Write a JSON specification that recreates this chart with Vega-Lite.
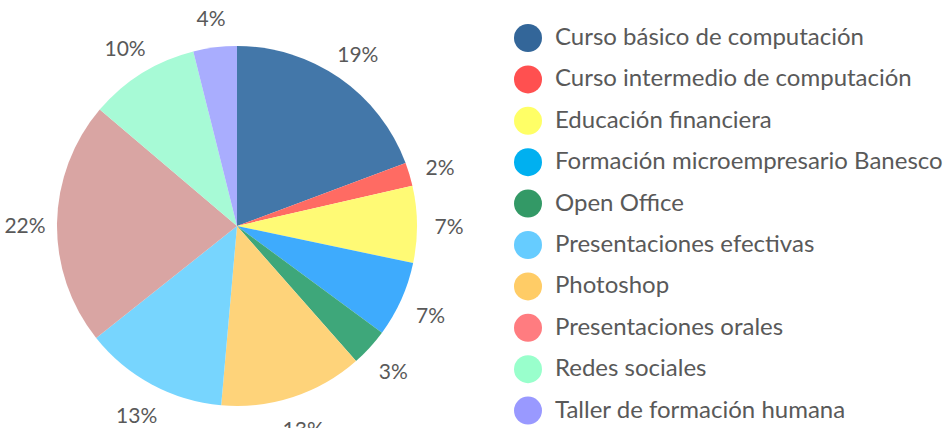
{
  "$schema": "https://vega.github.io/schema/vega-lite/v6.json",
  "width": 474,
  "height": 404,
  "autosize": {"type": "none"},
  "padding": {"left": 0, "top": 24, "right": 472, "bottom": 0},
  "background": "white",
  "view": {"stroke": null},
  "data": {
    "values": [
      {"curso": "Curso básico de computación", "pct": 0.193, "orden": 1},
      {"curso": "Curso intermedio de computación", "pct": 0.021, "orden": 2},
      {"curso": "Educación financiera", "pct": 0.069, "orden": 3},
      {"curso": "Formación microempresario Banesco", "pct": 0.068, "orden": 4},
      {"curso": "Open Office", "pct": 0.034, "orden": 5},
      {"curso": "Photoshop", "pct": 0.129, "orden": 6},
      {"curso": "Presentaciones efectivas", "pct": 0.129, "orden": 7},
      {"curso": "Presentaciones orales", "pct": 0.219, "orden": 8},
      {"curso": "Redes sociales", "pct": 0.099, "orden": 9},
      {"curso": "Taller de formación humana", "pct": 0.039, "orden": 10}
    ]
  },
  "layer": [
    {
      "mark": {"type": "arc", "radius": 0},
      "encoding": {
        "theta": {"field": "pct", "type": "quantitative", "stack": true},
        "order": {"field": "orden", "type": "quantitative"},
        "color": {
          "field": "curso",
          "type": "nominal",
          "scale": {
            "domain": ["Curso básico de computación", "Curso intermedio de computación", "Educación financiera", "Formación microempresario Banesco", "Open Office", "Presentaciones efectivas", "Photoshop", "Presentaciones orales", "Redes sociales", "Taller de formación humana"],
            "range": ["#336699", "#ff5050", "#ffff66", "#00b0f0", "#339966", "#66ccff", "#ffcc66", "#ff7c80", "#99ffcc", "#9999ff"]
          },
          "legend": {
            "title": null,
            "orient": "none",
            "legendX": 514,
            "legendY": 0,
            "padding": 0,
            "symbolType": "circle",
            "symbolSize": 784,
            "symbolStrokeWidth": 0,
            "symbolOpacity": 1,
            "labelFont": "Lato",
            "labelFontSize": 24,
            "labelColor": "#595959",
            "labelOffset": 13,
            "labelLimit": 500,
            "rowPadding": 13.4
          }
        }
      }
    },
    {
      "mark": {"type": "arc", "radius": 180},
      "encoding": {
        "theta": {"field": "pct", "type": "quantitative", "stack": true},
        "order": {"field": "orden", "type": "quantitative"},
        "color": {
          "field": "curso",
          "type": "nominal",
          "scale": {
            "domain": ["Curso básico de computación", "Curso intermedio de computación", "Educación financiera", "Formación microempresario Banesco", "Open Office", "Presentaciones efectivas", "Photoshop", "Presentaciones orales", "Redes sociales", "Taller de formación humana"],
            "range": ["#4377a9", "#ff6b63", "#fffa75", "#3eabfd", "#3ea77a", "#77d5fe", "#fed37a", "#d9a5a3", "#a7fad6", "#a9adfe"]
          },
          "legend": null
        }
      }
    },
    {
      "mark": {"type": "text", "radius": 212, "dy": 4, "font": "Lato", "fontSize": 21, "fill": "#595959"},
      "encoding": {
        "theta": {"field": "pct", "type": "quantitative", "stack": true},
        "order": {"field": "orden", "type": "quantitative"},
        "text": {"field": "pct", "type": "quantitative", "format": ".0%"}
      }
    }
  ],
  "resolve": {"scale": {"color": "independent"}}
}
